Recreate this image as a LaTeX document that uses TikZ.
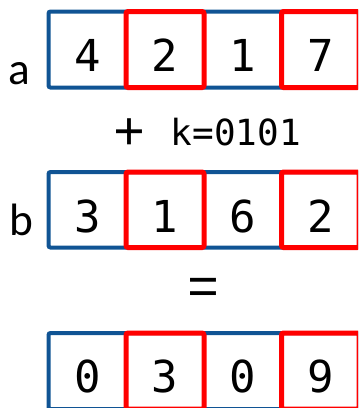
\documentclass[tikz,border=0pt]{standalone}
\usepackage{fontspec}
\newfontfamily\monofont{DejaVu Sans Mono}
\newfontfamily\thinmono{Liberation Mono}
\newfontfamily\labfont{Carlito}
\definecolor{cellblue}{RGB}{16,84,148}
\definecolor{cellred}{RGB}{255,0,0}
\begin{document}
\begin{tikzpicture}[x=0.75pt,y=-0.75pt,
  bluebox/.style={draw=cellblue,line width=3pt,rounded corners=1.5pt},
  redbox/.style={draw=cellred,line width=3.75pt,rounded corners=1.5pt},
  digit/.style={anchor=base,inner sep=0pt,font=\monofont\fontsize{33}{36}\selectfont},
  rowlab/.style={anchor=base,inner sep=0pt,font=\labfont\fontsize{34}{38}\selectfont},
  oplab/.style={anchor=base,inner sep=0pt,font=\monofont\fontsize{27}{30}\selectfont},
  bigop/.style={inner sep=0pt,font=\thinmono\fontsize{40}{44}\selectfont}]
\useasboundingbox (0,0) rectangle (358,408);
\clip (0,0) rectangle (358,408);
% row a
\draw[bluebox] (48.5,11.5) rectangle (359,87.5);
\draw[redbox] (126,11.5) rectangle (204,87.5);
\draw[redbox] (281.5,11.5) rectangle (359,87.5);
\node[digit] (a1) at (87.25,71) {4};
\node[digit] (a2) at (165,71) {2};
\node[digit] (a3) at (242.75,71) {1};
\node[digit] (a4) at (320.25,71) {7};
\node[rowlab] (la) at (19,84) {a};
% operator
\node[bigop] (plus) at (129.7,134) {+};
\node[oplab,anchor=base west] (key) at (170.5,145) {k=0101};
% row b
\draw[bluebox] (48.5,172) rectangle (359,247.5);
\draw[redbox] (126,172) rectangle (204,247.5);
\draw[redbox] (281.5,172) rectangle (359,247.5);
\node[digit] (b1) at (87.25,232) {3};
\node[digit] (b2) at (165,232) {1};
\node[digit] (b3) at (242.75,232) {6};
\node[digit] (b4) at (320.25,232) {2};
\node[rowlab] (lb) at (21,235.5) {b};
% equals
\node[bigop] (eq) at (203.7,291) {=};
% row c
\draw[bluebox] (48.5,333) rectangle (359,409);
\draw[redbox] (126,333) rectangle (204,409);
\draw[redbox] (281.5,333) rectangle (359,409);
\node[digit] (c1) at (87.25,392) {0};
\node[digit] (c2) at (165,392) {3};
\node[digit] (c3) at (242.75,392) {0};
\node[digit] (c4) at (320.25,392) {9};
\end{tikzpicture}
\end{document}
